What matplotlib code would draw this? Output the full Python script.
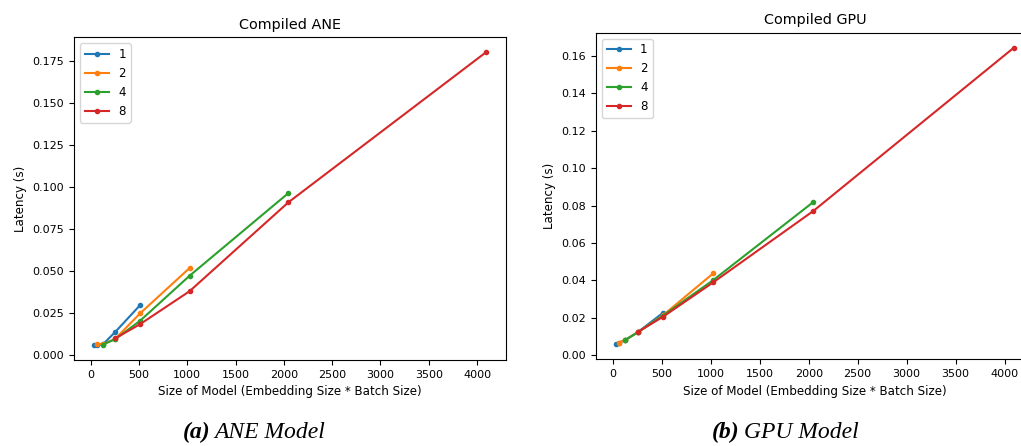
import matplotlib
matplotlib.use("Agg")
import matplotlib.pyplot as plt

# Model sizes (embedding size * batch size) per batch size
batch_sizes = ["1", "2", "4", "8"]
sizes_1 = [32, 64, 128, 256, 512]
sizes_2 = [64, 128, 256, 512, 1024]
sizes_4 = [128, 256, 512, 1024, 2048]
sizes_8 = [256, 512, 1024, 2048, 4096]

# Compiled ANE latencies (s)
ane_1 = [0.0058, 0.0060, 0.0064, 0.0138, 0.0297]
ane_2 = [0.0068, 0.0064, 0.0097, 0.0248, 0.0518]
ane_4 = [0.0063, 0.0095, 0.0204, 0.0472, 0.0965]
ane_8 = [0.0100, 0.0184, 0.0380, 0.0910, 0.1805]

# Compiled GPU latencies (s)
gpu_1 = [0.0056, 0.0066, 0.0080, 0.0122, 0.0225]
gpu_2 = [0.0066, 0.0080, 0.0121, 0.0212, 0.0436]
gpu_4 = [0.0080, 0.0121, 0.0210, 0.0400, 0.0819]
gpu_8 = [0.0123, 0.0204, 0.0388, 0.0771, 0.1646]

colors = ["#1f77b4", "#ff7f0e", "#2ca02c", "#d62728"]

fig = plt.figure(figsize=(10.21, 4.46), dpi=100)
ax1 = fig.add_axes([0.0725, 0.1928, 0.4231, 0.7236])
ax2 = fig.add_axes([0.5837, 0.1944, 0.429, 0.7323])

def draw(ax, series, title):
    sizes = [sizes_1, sizes_2, sizes_4, sizes_8]
    for s, y, lab, c in zip(sizes, series, batch_sizes, colors):
        ax.plot(s, y, marker=".", markersize=6, color=c, label=lab)
    ax.set_title(title, fontsize=10.4)
    ax.set_xlabel("Size of Model (Embedding Size * Batch Size)", fontsize=8.6)
    ax.set_ylabel("Latency (s)", fontsize=8.6)
    ax.tick_params(labelsize=8)
    ax.legend(loc="upper left", fontsize=8.6)

draw(ax1, [ane_1, ane_2, ane_4, ane_8], "Compiled ANE")
draw(ax2, [gpu_1, gpu_2, gpu_4, gpu_8], "Compiled GPU")

# captions
cap_y = 1 - 432 / 446
fig.text(183 / 1021, cap_y, "(a)", fontsize=17, family="Liberation Serif",
         style="italic", weight="bold", va="center", ha="left")
fig.text(214 / 1021, cap_y, "ANE Model", fontsize=17, family="Liberation Serif",
         style="italic", va="center", ha="left")
fig.text(712 / 1021, cap_y, "(b)", fontsize=17, family="Liberation Serif",
         style="italic", weight="bold", va="center", ha="left")
fig.text(744 / 1021, cap_y, "GPU Model", fontsize=17, family="Liberation Serif",
         style="italic", va="center", ha="left")

fig.savefig("out.png", dpi=100)
